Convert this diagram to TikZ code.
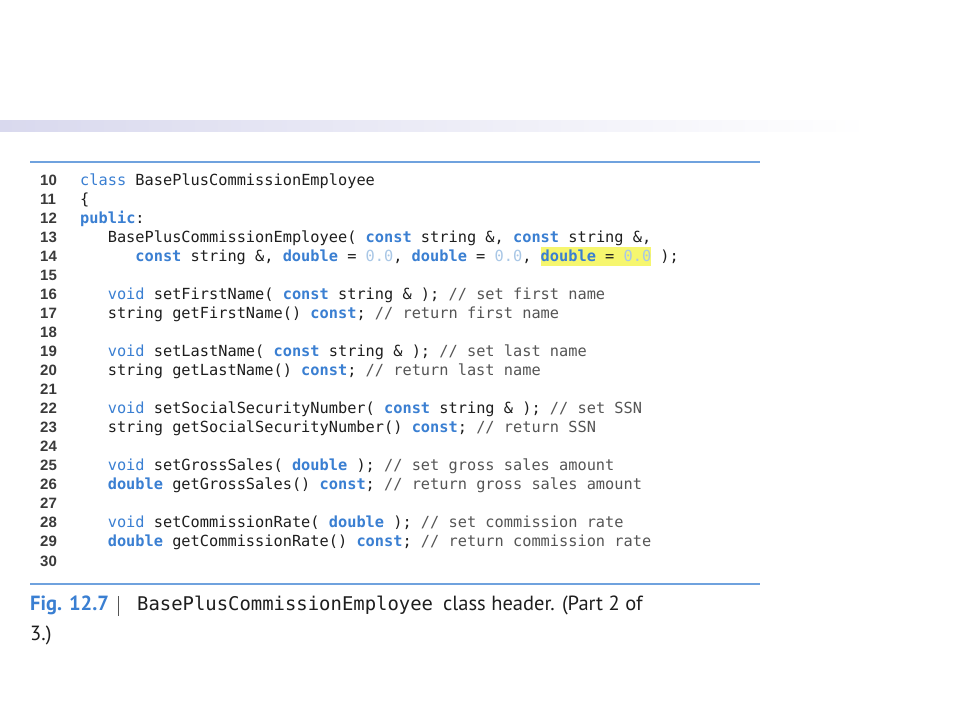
\documentclass[tikz,border=0pt]{standalone}
\usepackage{fontspec}
\setmonofont{DejaVu Sans Mono}
\newfontfamily\capsans{PT Sans}
\newfontfamily\numsans{Liberation Sans}
\definecolor{kw}{HTML}{3A7FD2}
\definecolor{num}{HTML}{A9C7E6}
\definecolor{cmtc}{HTML}{555555}
\definecolor{txt}{HTML}{1E1E1E}
\definecolor{ln}{HTML}{3A3A3A}
\definecolor{rulec}{HTML}{6FA2DE}
\definecolor{barc}{HTML}{D9D9EE}
\definecolor{hl}{HTML}{F6F66E}
\newcommand\kwb[1]{\textcolor{kw}{\bfseries #1}}
\newcommand\kwr[1]{\textcolor{kw}{#1}}
\newcommand\nm[1]{\textcolor{num}{#1}}
\newcommand\cmt[1]{\textcolor{cmtc}{#1}}
\newcommand\hlbox[1]{{\setlength\fboxsep{0pt}\colorbox{hl}{\rule[-5pt]{0pt}{19pt}#1}}}
\begin{document}
\begin{tikzpicture}[x=1pt,y=-1pt,
  codeline/.style={anchor=base west,inner sep=0pt,text=txt,font=\ttfamily\fontsize{15.3}{19}\selectfont},
  lnum/.style={anchor=base west,inner sep=0pt,text=ln,font=\numsans\bfseries\fontsize{15}{19}\selectfont},
  caption/.style={anchor=base west,inner sep=0pt,text=txt,font=\capsans\fontsize{20.5}{30}\selectfont}]
\useasboundingbox (0,0) rectangle (960,720);
\fill[white] (0,0) rectangle (960,720);
\shade[left color=barc,right color=white] (0,120) rectangle (870,131);
\draw[rulec,line width=1.5pt] (30,162) coordinate (r1a) -- (760,162) coordinate (r1b);
\draw[rulec,line width=1.5pt] (30,584) coordinate (r2a) -- (760,584) coordinate (r2b);
% line numbers
\foreach \i in {10,...,30}{
  \node[lnum] (n\i) at (40,{185+19.05*(\i-10)}) {\i};
}
% code
\node[codeline] (c10) at (80,185) {\kwr{class} BasePlusCommissionEmployee};
\node[codeline] (c11) at (80,{185+19.05*1}) {\{};
\node[codeline] (c12) at (80,{185+19.05*2}) {\kwb{public}:};
\node[codeline] (c13) at (107.6,{185+19.05*3}) {BasePlusCommissionEmployee( \kwb{const} string \&, \kwb{const} string \&,};
\node[codeline] (c14) at (135.2,{185+19.05*4}) {\kwb{const} string \&, \kwb{double} = \nm{0.0}, \kwb{double} = \nm{0.0}, \hlbox{\kwb{double} = \nm{0.0}} );};
\node[codeline] (c16) at (107.6,{185+19.05*6}) {\kwr{void} setFirstName( \kwb{const} string \& ); \cmt{// set first name}};
\node[codeline] (c17) at (107.6,{185+19.05*7}) {string getFirstName() \kwb{const}; \cmt{// return first name}};
\node[codeline] (c19) at (107.6,{185+19.05*9}) {\kwr{void} setLastName( \kwb{const} string \& ); \cmt{// set last name}};
\node[codeline] (c20) at (107.6,{185+19.05*10}) {string getLastName() \kwb{const}; \cmt{// return last name}};
\node[codeline] (c22) at (107.6,{185+19.05*12}) {\kwr{void} setSocialSecurityNumber( \kwb{const} string \& ); \cmt{// set SSN}};
\node[codeline] (c23) at (107.6,{185+19.05*13}) {string getSocialSecurityNumber() \kwb{const}; \cmt{// return SSN}};
\node[codeline] (c25) at (107.6,{185+19.05*15}) {\kwr{void} setGrossSales( \kwb{double} ); \cmt{// set gross sales amount}};
\node[codeline] (c26) at (107.6,{185+19.05*16}) {\kwb{double} getGrossSales() \kwb{const}; \cmt{// return gross sales amount}};
\node[codeline] (c28) at (107.6,{185+19.05*18}) {\kwr{void} setCommissionRate( \kwb{double} ); \cmt{// set commission rate}};
\node[codeline] (c29) at (107.6,{185+19.05*19}) {\kwb{double} getCommissionRate() \kwb{const}; \cmt{// return commission rate}};
% caption
\node[caption] (fig) at (30,610) {\textcolor{kw}{\bfseries Fig. 12.7}};
\draw[cmtc,line width=0.8pt] (118,596) coordinate (sa) -- (118,616) coordinate (sb);
\node[anchor=base west,inner sep=0pt,text=txt,font=\ttfamily\fontsize{18.9}{30}\selectfont] (cname) at (137,610) {BasePlusCommissionEmployee};
\node[caption] (ctext) at (443,610) {class header. (Part 2 of};
\node[caption] (ctext2) at (30,640) {3.)};
\end{tikzpicture}
\end{document}
